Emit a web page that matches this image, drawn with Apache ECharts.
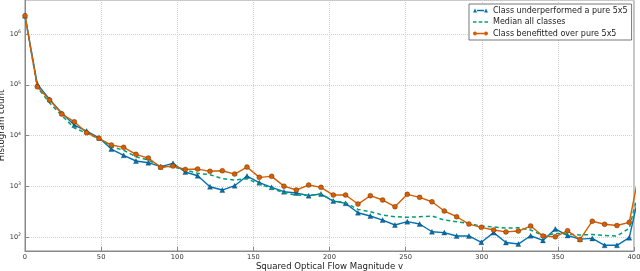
<!DOCTYPE html>
<html>
<head>
<meta charset="utf-8">
<script src="https://cdn.jsdelivr.net/npm/echarts@6/dist/echarts.min.js"></script>
<style>
html,body{margin:0;padding:0;background:#fff;}
#c{width:640px;height:271px;}
</style>
</head>
<body>
<div id="c"></div>
<script>
// Bin centres (squared optical flow magnitude v)
const xs = [0, 8.1, 16.2, 24.3, 32.4, 40.5, 48.6, 56.7, 64.8, 72.9, 81, 89.1, 97.2, 105.3, 113.4, 121.5, 129.6, 137.7, 145.8, 153.9,
  162, 170.1, 178.2, 186.3, 194.4, 202.5, 210.6, 218.7, 226.8, 234.9, 243, 251.1, 259.2, 267.3, 275.4, 283.5, 291.6, 299.7, 307.8, 315.9,
  324, 332.1, 340.2, 348.3, 356.4, 364.5, 372.6, 380.7, 388.8, 396.9, 405];

const underperformed = [2.3e6, 1.03e5, 5.15e4, 2.73e4, 1.6e4, 1.22e4, 9000, 5400, 4050, 3130,
  2900, 2420, 2820, 1900, 1600, 973, 837, 1020, 1580, 1170,
  946, 776, 731, 648, 698, 508, 458, 299, 257, 214,
  171, 199, 179, 126, 121, 104, 104, 78, 121, 77,
  72, 105, 85, 143, 106, 90, 93, 68, 68, 96, 1200];

const median = [2.3e6, 8.9e4, 4.36e4, 2.45e4, 1.4e4, 1.11e4, 8600, 5980, 5100, 3800,
  3270, 2420, 2420, 2080, 1790, 1680, 1400, 1320, 1400, 1100,
  905, 741, 668, 658, 698, 516, 471, 348, 313, 269,
  249, 243, 249, 257, 214, 199, 182, 163, 156, 149,
  151, 136, 106, 116, 114, 109, 111, 106, 104, 147, 1400];

const benefitted = [2.3e6, 9.1e4, 4.99e4, 2.64e4, 1.86e4, 1.13e4, 8770, 6470, 5830, 4240,
  3580, 2350, 2490, 2140, 2170, 1960, 2010, 1730, 2380, 1490,
  1560, 1000, 838, 1050, 946, 667, 667, 443, 647, 532,
  393, 689, 601, 492, 323, 249, 178, 154, 136, 125,
  130, 163, 104, 100, 132, 88, 203, 177, 167, 193, 3300];

const seriesNames = ['Class underperformed a pure 5x5', 'Median all classes', 'Class benefitted over pure 5x5'];
const xTicks = {min: 0, max: 400, step: 50};
const yRange = {min: 52.5, max: 4.7e6};

const FONT = 'DejaVu Sans';
const BLUE = '#0072B2', GREEN = '#009E73', ORANGE = '#D55E00';

function pairs(vals) { return vals.map((v, i) => [xs[i], v]); }

const iconBlue = 'path://M0,12L4,4L8,12Z M22,12L26,4L30,12Z M8,6.5L22,6.5L22,9.5L8,9.5Z';
const iconGreen = 'path://M0,6.5L7,6.5L7,9.5L0,9.5Z M11.5,6.5L18.5,6.5L18.5,9.5L11.5,9.5Z M23,6.5L30,6.5L30,9.5L23,9.5Z';
const iconOrange = 'path://M0,8A4,4,0,1,1,8,8A4,4,0,1,1,0,8Z M22,8A4,4,0,1,1,30,8A4,4,0,1,1,22,8Z M8,6.5L22,6.5L22,9.5L8,9.5Z';

const chart = echarts.init(document.getElementById('c'), null, {renderer: 'canvas'});
chart.setOption({
  animation: false,
  backgroundColor: '#fff',
  textStyle: {fontFamily: FONT},
  grid: {left: 25, right: 6, top: 0, bottom: 20, containLabel: false, outerBoundsMode: 'none',
    show: true, borderColor: '#888', borderWidth: 1, backgroundColor: 'transparent'},
  legend: {
    orient: 'vertical',
    left: 469, top: 4,
    padding: [2, 4, 2, 4],
    itemWidth: 15, itemHeight: 8, itemGap: 2.5,
    backgroundColor: '#fff',
    borderColor: '#555', borderWidth: 0.8, borderRadius: 0,
    textStyle: {fontFamily: FONT, fontSize: 8, color: '#222', lineHeight: 9},
    itemStyle: {borderWidth: 0},
    data: [
      {name: seriesNames[0], icon: iconBlue},
      {name: seriesNames[1], icon: iconGreen},
      {name: seriesNames[2], icon: iconOrange}
    ]
  },
  xAxis: {
    type: 'value', min: xTicks.min, max: xTicks.max, interval: xTicks.step,
    name: 'Squared Optical Flow Magnitude v', nameLocation: 'middle', nameGap: 11, nameMoveOverlap: false,
    nameTextStyle: {fontFamily: FONT, fontSize: 8.6, color: '#222', verticalAlign: 'top'},
    axisLine: {show: true, lineStyle: {color: '#888', width: 1}},
    axisTick: {show: true, inside: true, length: 4, lineStyle: {color: '#888'}},
    axisLabel: {fontFamily: FONT, fontSize: 6.7, color: '#333', margin: 3},
    splitLine: {show: true, lineStyle: {color: '#d0d0d0', type: 'dotted', width: 1}}
  },
  yAxis: {
    type: 'log', logBase: 10, min: yRange.min, max: yRange.max,
    name: 'Histogram count', nameLocation: 'middle', nameGap: 18.5, nameMoveOverlap: false,
    nameTextStyle: {fontFamily: FONT, fontSize: 8.6, color: '#222'},
    axisLine: {show: true, lineStyle: {color: '#888', width: 1}},
    axisTick: {show: true, inside: true, length: 4, lineStyle: {color: '#888'}},
    axisLabel: {
      showMinLabel: false, showMaxLabel: false, margin: 4,
      formatter: function (v) {
        const e = Math.round(Math.log10(v));
        const p = Math.pow(10, e);
        if (Math.abs(v - p) / p > 0.01) return '';
        return '{b|10}{s|' + e + '}';
      },
      rich: {
        b: {fontFamily: FONT, fontSize: 6.5, color: '#333', lineHeight: 9},
        s: {fontFamily: FONT, fontSize: 4.6, color: '#333', verticalAlign: 'top', lineHeight: 9}
      }
    },
    splitLine: {show: true, lineStyle: {color: '#d0d0d0', type: 'dotted', width: 1}}
  },
  series: [
    {
      name: seriesNames[0], type: 'line', data: pairs(underperformed), clip: true,
      symbol: 'triangle', symbolSize: 5, showAllSymbol: true,
      lineStyle: {color: BLUE, width: 1.4},
      itemStyle: {color: BLUE, borderColor: 'rgba(0,0,0,0.6)', borderWidth: 0.4}, z: 2
    },
    {
      name: seriesNames[1], type: 'line', data: pairs(median), clip: true,
      symbol: 'none',
      lineStyle: {color: GREEN, width: 1.5, type: [4, 3]},
      itemStyle: {color: GREEN}, z: 3
    },
    {
      name: seriesNames[2], type: 'line', data: pairs(benefitted), clip: true,
      symbol: 'circle', symbolSize: 5, showAllSymbol: true,
      lineStyle: {color: ORANGE, width: 1.4},
      itemStyle: {color: ORANGE, borderColor: 'rgba(0,0,0,0.6)', borderWidth: 0.4}, z: 4
    }
  ]
});
</script>
</body>
</html>
